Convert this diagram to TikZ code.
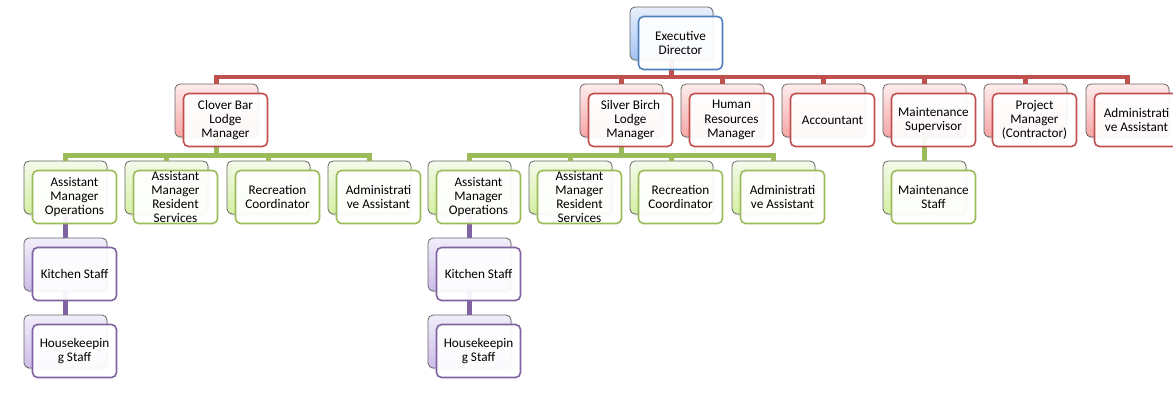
\documentclass[tikz,border=0pt]{standalone}
\usepackage{fontspec}
\setmainfont{Carlito}
\usetikzlibrary{shadows}
\definecolor{edblue}{RGB}{79,129,189}
\definecolor{mgred}{RGB}{192,80,77}
\definecolor{stgreen}{RGB}{155,187,89}
\definecolor{hkpurple}{RGB}{128,100,162}
\definecolor{edbluetop}{RGB}{232,239,251}
\definecolor{edbluebot}{RGB}{165,196,242}
\definecolor{mgredtop}{RGB}{254,236,236}
\definecolor{mgredbot}{RGB}{246,166,166}
\definecolor{stgreentop}{RGB}{245,250,235}
\definecolor{stgreenbot}{RGB}{212,240,162}
\definecolor{hkpurpletop}{RGB}{242,238,250}
\definecolor{hkpurplebot}{RGB}{203,188,232}
\begin{document}
\begin{tikzpicture}[x=1pt, y=-1pt,
  every node/.style={font=\fontsize{13.2}{14.3}\selectfont, align=center, inner sep=0pt},
  back/.style={rectangle, rounded corners=5pt, minimum width=83pt, minimum height=53pt, draw=black!60, line width=0.8pt, top color=#1top, bottom color=#1bot, drop shadow={opacity=0.2, shadow xshift=1.5pt, shadow yshift=-2pt}},
  front/.style={rectangle, rounded corners=5pt, minimum width=84pt, minimum height=53pt, draw=#1, line width=1.6pt, fill=white, fill opacity=0.93, text opacity=1},
  link/.style={draw=#1, line width=4.5pt}]
\useasboundingbox (0,0) rectangle (1173,398);
\node[back=edblue] (role0b) at (671.5,33.5){};
\node[back=mgred] (role1b) at (216.5,110.5){};
\node[back=mgred] (role2b) at (621.5,110.5){};
\node[back=mgred] (role3b) at (722.5,110.5){};
\node[back=mgred] (role4b) at (823.5,110.5){};
\node[back=mgred] (role5b) at (924.5,110.5){};
\node[back=mgred] (role6b) at (1025.5,110.5){};
\node[back=mgred] (role7b) at (1127.5,110.5){};
\draw[link=mgred](role0b.south) -- ++(0,16.5) -| (role1b.north);
\draw[link=mgred](role0b.south) -- ++(0,16.5) -| (role2b.north);
\draw[link=mgred](role0b.south) -- ++(0,16.5) -| (role3b.north);
\draw[link=mgred](role0b.south) -- ++(0,16.5) -| (role4b.north);
\draw[link=mgred](role0b.south) -- ++(0,16.5) -| (role5b.north);
\draw[link=mgred](role0b.south) -- ++(0,16.5) -| (role6b.north);
\draw[link=mgred](role0b.south) -- ++(0,16.5) -| (role7b.north);
\node[back=stgreen] (role8b) at (65.5,187.5){};
\node[back=stgreen] (role9b) at (166.5,187.5){};
\node[back=stgreen] (role10b) at (268.5,187.5){};
\node[back=stgreen] (role11b) at (369.5,187.5){};
\draw[link=stgreen](role1b.south) -- ++(0,18) -| (role8b.north);
\draw[link=stgreen](role1b.south) -- ++(0,18) -| (role9b.north);
\draw[link=stgreen](role1b.south) -- ++(0,18) -| (role10b.north);
\draw[link=stgreen](role1b.south) -- ++(0,18) -| (role11b.north);
\node[back=hkpurple] (role12b) at (65.5,264.5){};
\node[back=hkpurple] (role13b) at (65.5,341.5){};
\draw[link=hkpurple](role8b) -- (role12b);
\draw[link=hkpurple](role12b) -- (role13b);
\node[back=stgreen] (role14b) at (469.5,187.5){};
\node[back=stgreen] (role15b) at (570.5,187.5){};
\node[back=stgreen] (role16b) at (671.5,187.5){};
\node[back=stgreen] (role17b) at (773.5,187.5){};
\draw[link=stgreen](role2b.south) -- ++(0,18) -| (role14b.north);
\draw[link=stgreen](role2b.south) -- ++(0,18) -| (role15b.north);
\draw[link=stgreen](role2b.south) -- ++(0,18) -| (role16b.north);
\draw[link=stgreen](role2b.south) -- ++(0,18) -| (role17b.north);
\node[back=hkpurple] (role18b) at (469.5,264.5){};
\node[back=hkpurple] (role19b) at (469.5,341.5){};
\draw[link=hkpurple](role14b) -- (role18b);
\draw[link=hkpurple](role18b) -- (role19b);
\node[back=stgreen] (role20b) at (924.5,187.5){};
\draw[link=stgreen](role5b) -- (role20b);
\node[front=edblue] (role0) at ([shift={(9,9.5)}]role0b.center){Executive\\Director};
\node[front=mgred] (role1) at ([shift={(9,9.5)}]role1b.center){Clover Bar\\Lodge\\Manager};
\node[front=mgred] (role2) at ([shift={(9,9.5)}]role2b.center){Silver Birch\\Lodge\\Manager};
\node[front=mgred] (role3) at ([shift={(9,9.5)}]role3b.center){Human\\Resources\\Manager};
\node[front=mgred] (role4) at ([shift={(9,9.5)}]role4b.center){Accountant};
\node[front=mgred] (role5) at ([shift={(9,9.5)}]role5b.center){Maintenance\\Supervisor};
\node[front=mgred] (role6) at ([shift={(9,9.5)}]role6b.center){Project\\Manager\\(Contractor)};
\node[front=mgred] (role7) at ([shift={(9,9.5)}]role7b.center){Administrati\\ve Assistant};
\node[front=stgreen] (role8) at ([shift={(9,9.5)}]role8b.center){Assistant\\Manager\\Operations};
\node[front=stgreen] (role9) at ([shift={(9,9.5)}]role9b.center){Assistant\\Manager\\Resident\\Services};
\node[front=stgreen] (role10) at ([shift={(9,9.5)}]role10b.center){Recreation\\Coordinator};
\node[front=stgreen] (role11) at ([shift={(9,9.5)}]role11b.center){Administrati\\ve Assistant};
\node[front=hkpurple] (role12) at ([shift={(9,9.5)}]role12b.center){Kitchen Staff};
\node[front=hkpurple] (role13) at ([shift={(9,9.5)}]role13b.center){Housekeepin\\g Staff};
\node[front=stgreen] (role14) at ([shift={(9,9.5)}]role14b.center){Assistant\\Manager\\Operations};
\node[front=stgreen] (role15) at ([shift={(9,9.5)}]role15b.center){Assistant\\Manager\\Resident\\Services};
\node[front=stgreen] (role16) at ([shift={(9,9.5)}]role16b.center){Recreation\\Coordinator};
\node[front=stgreen] (role17) at ([shift={(9,9.5)}]role17b.center){Administrati\\ve Assistant};
\node[front=hkpurple] (role18) at ([shift={(9,9.5)}]role18b.center){Kitchen Staff};
\node[front=hkpurple] (role19) at ([shift={(9,9.5)}]role19b.center){Housekeepin\\g Staff};
\node[front=stgreen] (role20) at ([shift={(9,9.5)}]role20b.center){Maintenance\\Staff};
\end{tikzpicture}
\end{document}
